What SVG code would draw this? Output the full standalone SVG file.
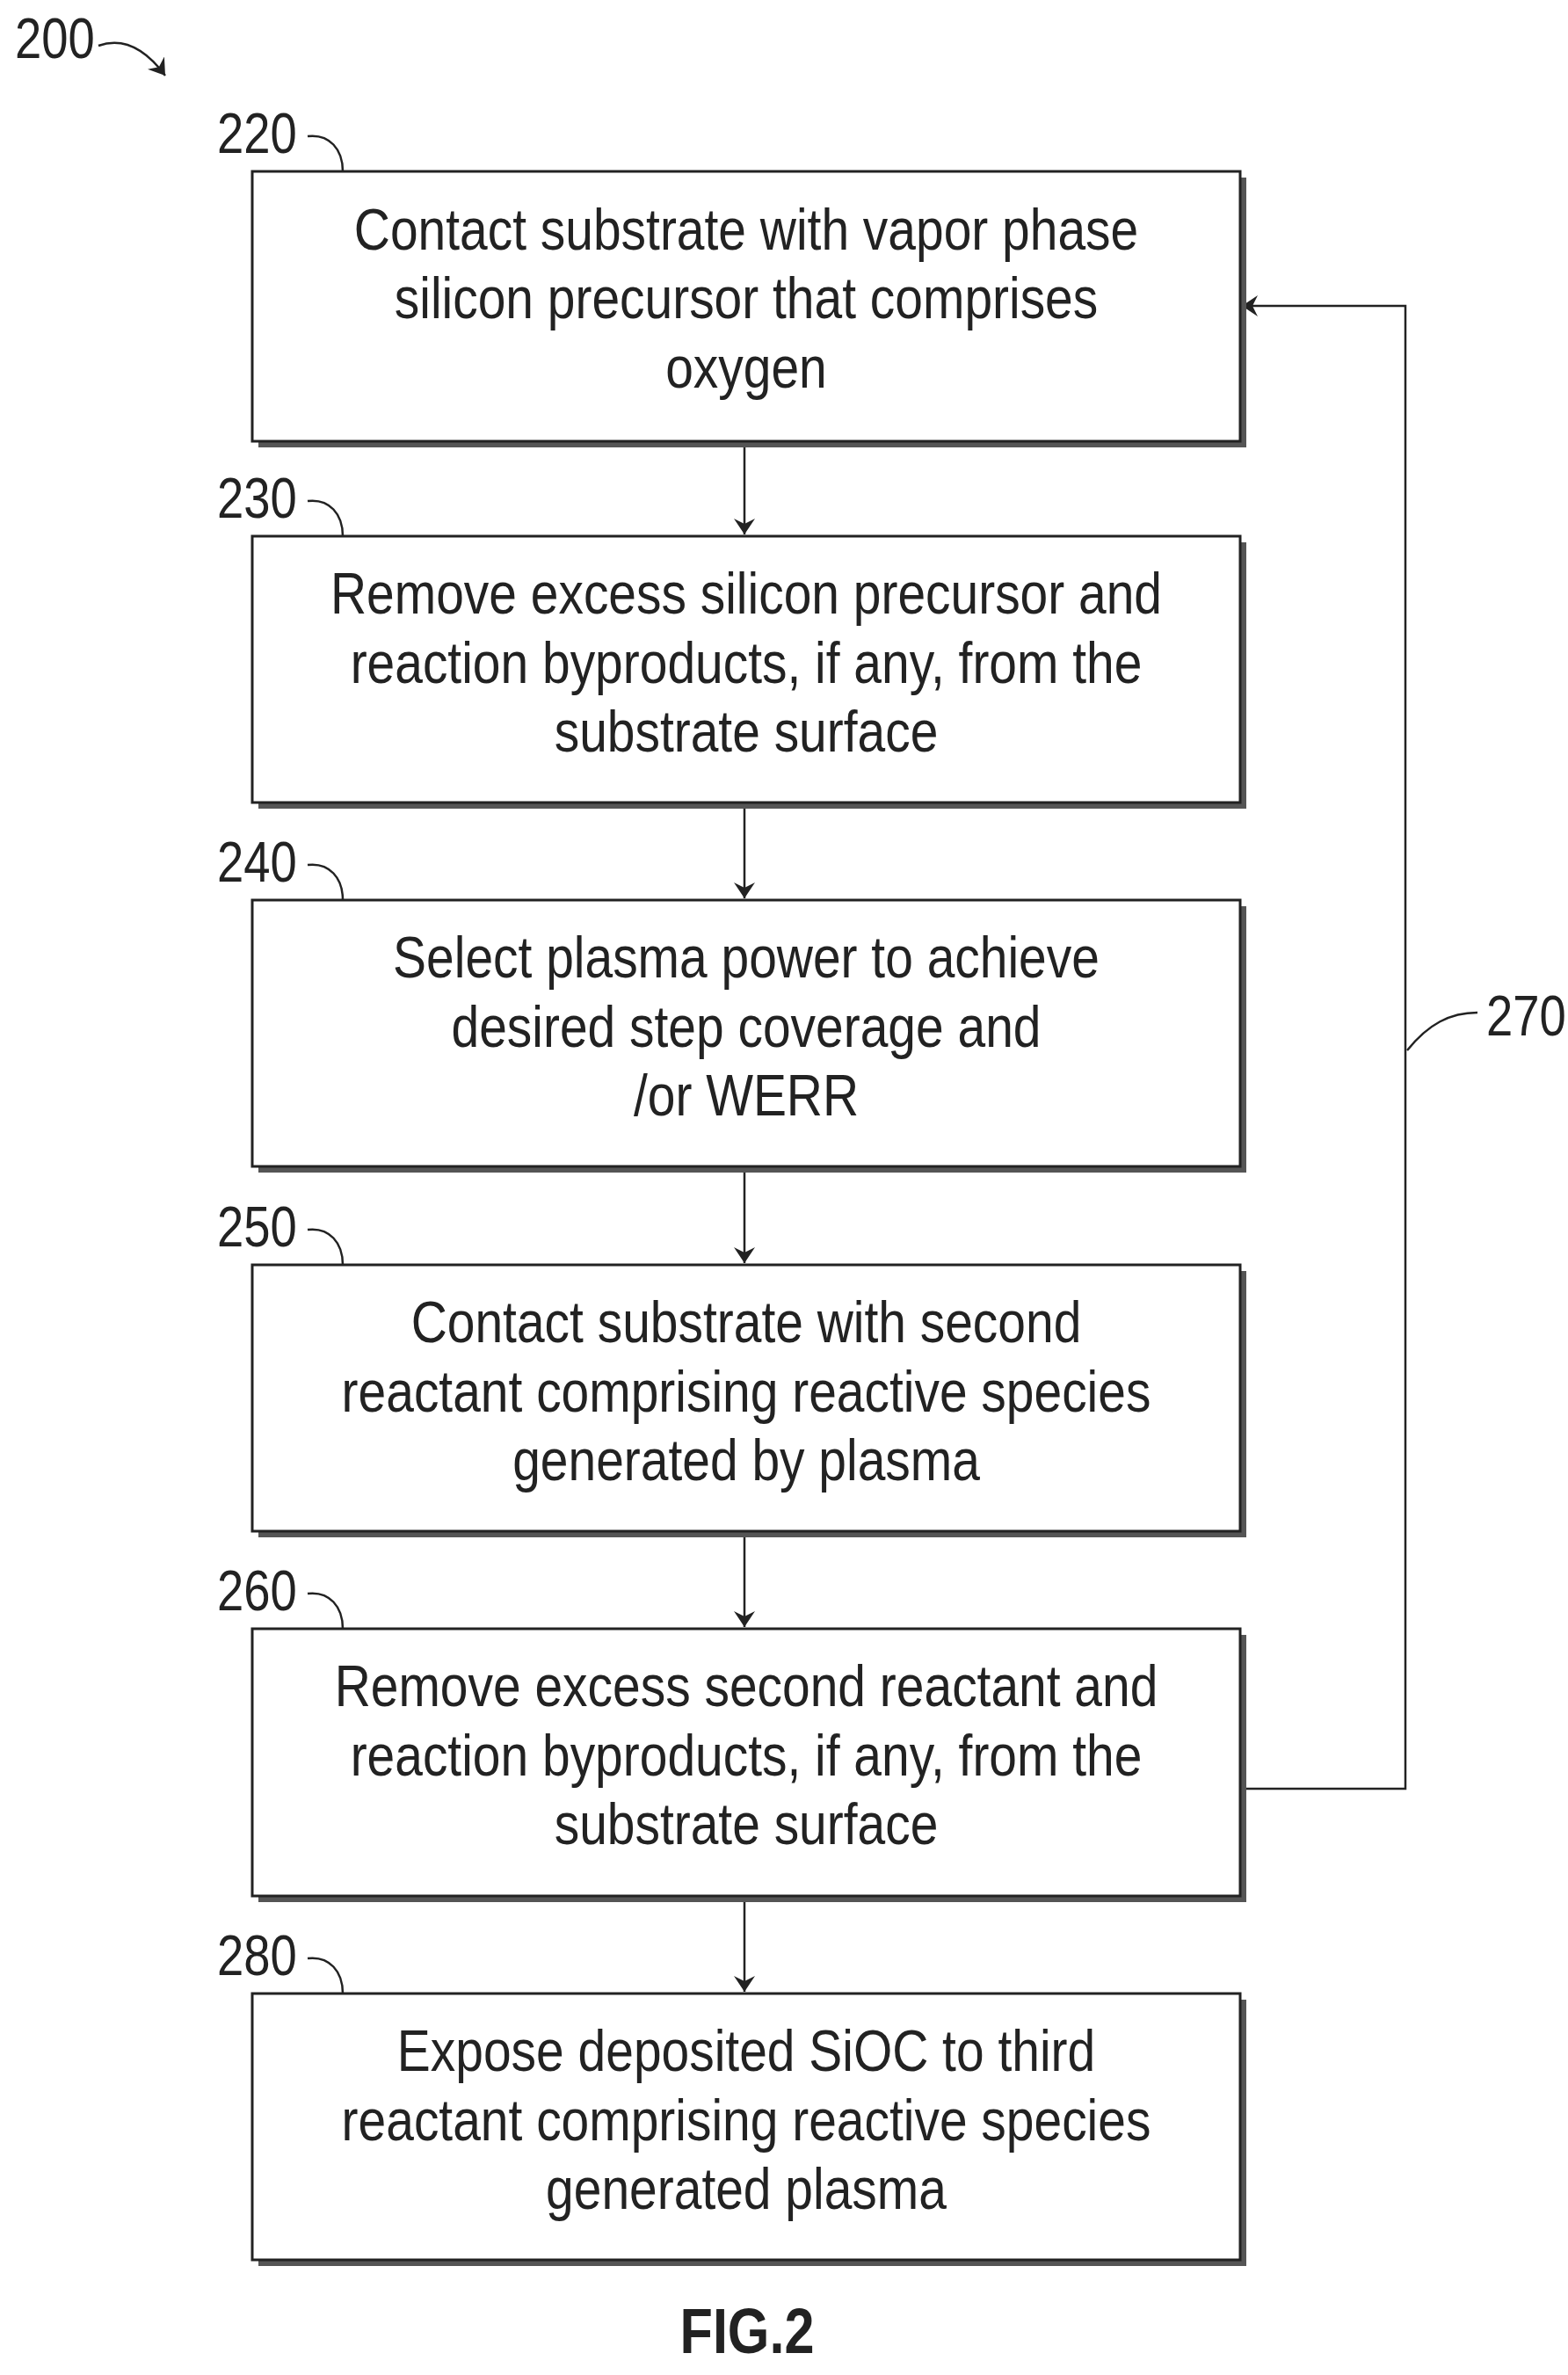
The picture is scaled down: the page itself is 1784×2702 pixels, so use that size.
<svg xmlns="http://www.w3.org/2000/svg" width="1784" height="2702" viewBox="0 0 1784 2702">
<defs>
<style>
.box{fill:#fff;stroke:#222;stroke-width:3}
.sh{fill:#555}
.t{font-family:"Liberation Sans",Arial,sans-serif;font-size:67px;fill:#222;text-anchor:middle}
.lb{font-family:"Liberation Sans",Arial,sans-serif;font-size:64px;fill:#222}
.ln{fill:none;stroke:#222;stroke-width:2.5}
</style>
<marker id="ah" markerWidth="18" markerHeight="24" refX="18" refY="12" orient="auto" markerUnits="userSpaceOnUse">
<path d="M0,0 L18,12 L0,24 L6,12 Z" fill="#222"/>
</marker>
</defs>
<rect width="1784" height="2702" fill="#fff"/>
<g id="ref200">
<text class="lb" x="17" y="66" transform="translate(17,0) scale(0.85,1) translate(-17,0)">200</text>
<path class="ln" d="M112,52 C140,42 165,55 188,86" marker-end="url(#ah)"/>
</g>
<g id="connectors">
<line class="ln" x1="847" y1="502" x2="847" y2="608" marker-end="url(#ah)"/>
<line class="ln" x1="847" y1="913" x2="847" y2="1022" marker-end="url(#ah)"/>
<line class="ln" x1="847" y1="1327" x2="847" y2="1437" marker-end="url(#ah)"/>
<line class="ln" x1="847" y1="1742" x2="847" y2="1851" marker-end="url(#ah)"/>
<line class="ln" x1="847" y1="2157" x2="847" y2="2266" marker-end="url(#ah)"/>
<path class="ln" d="M1411,2035 H1599 V348 H1413" marker-end="url(#ah)"/>
<path class="ln" d="M1601,1195 C1625,1165 1650,1152 1681,1152"/>
<text class="lb" x="1691" y="1178" transform="translate(1691,0) scale(0.85,1) translate(-1691,0)">270</text>
</g>
<g id="n220">
<rect class="sh" x="294" y="202" width="1124" height="307"/>
<rect class="box" x="287" y="195" width="1124" height="307"/>
<path class="ln" d="M350,155 C375,152 390,170 390,195"/>
<text class="lb" x="247" y="174" transform="translate(247,0) scale(0.85,1) translate(-247,0)">220</text>
<g transform="translate(849,0) scale(0.85,1)">
<text class="t" x="0" y="284">Contact substrate with vapor phase</text>
<text class="t" x="0" y="362">silicon precursor that comprises</text>
<text class="t" x="0" y="441">oxygen</text>
</g>
</g>
<g id="n230">
<rect class="sh" x="294" y="617" width="1124" height="303"/>
<rect class="box" x="287" y="610" width="1124" height="303"/>
<path class="ln" d="M350,570 C375,567 390,585 390,610"/>
<text class="lb" x="247" y="589" transform="translate(247,0) scale(0.85,1) translate(-247,0)">230</text>
<g transform="translate(849,0) scale(0.85,1)">
<text class="t" x="0" y="698">Remove excess silicon precursor and</text>
<text class="t" x="0" y="777">reaction byproducts, if any, from the</text>
<text class="t" x="0" y="855">substrate surface</text>
</g>
</g>
<g id="n240">
<rect class="sh" x="294" y="1031" width="1124" height="303"/>
<rect class="box" x="287" y="1024" width="1124" height="303"/>
<path class="ln" d="M350,984 C375,981 390,999 390,1024"/>
<text class="lb" x="247" y="1003" transform="translate(247,0) scale(0.85,1) translate(-247,0)">240</text>
<g transform="translate(849,0) scale(0.85,1)">
<text class="t" x="0" y="1112">Select plasma power to achieve</text>
<text class="t" x="0" y="1191">desired step coverage and</text>
<text class="t" x="0" y="1269">/or WERR</text>
</g>
</g>
<g id="n250">
<rect class="sh" x="294" y="1446" width="1124" height="303"/>
<rect class="box" x="287" y="1439" width="1124" height="303"/>
<path class="ln" d="M350,1399 C375,1396 390,1414 390,1439"/>
<text class="lb" x="247" y="1418" transform="translate(247,0) scale(0.85,1) translate(-247,0)">250</text>
<g transform="translate(849,0) scale(0.85,1)">
<text class="t" x="0" y="1527">Contact substrate with second</text>
<text class="t" x="0" y="1606">reactant comprising reactive species</text>
<text class="t" x="0" y="1684">generated by plasma</text>
</g>
</g>
<g id="n260">
<rect class="sh" x="294" y="1860" width="1124" height="304"/>
<rect class="box" x="287" y="1853" width="1124" height="304"/>
<path class="ln" d="M350,1813 C375,1810 390,1828 390,1853"/>
<text class="lb" x="247" y="1832" transform="translate(247,0) scale(0.85,1) translate(-247,0)">260</text>
<g transform="translate(849,0) scale(0.85,1)">
<text class="t" x="0" y="1941">Remove excess second reactant and</text>
<text class="t" x="0" y="2020">reaction byproducts, if any, from the</text>
<text class="t" x="0" y="2098">substrate surface</text>
</g>
</g>
<g id="n280">
<rect class="sh" x="294" y="2275" width="1124" height="303"/>
<rect class="box" x="287" y="2268" width="1124" height="303"/>
<path class="ln" d="M350,2228 C375,2225 390,2243 390,2268"/>
<text class="lb" x="247" y="2247" transform="translate(247,0) scale(0.85,1) translate(-247,0)">280</text>
<g transform="translate(849,0) scale(0.85,1)">
<text class="t" x="0" y="2356">Expose deposited SiOC to third</text>
<text class="t" x="0" y="2435">reactant comprising reactive species</text>
<text class="t" x="0" y="2513">generated plasma</text>
</g>
</g>
<g id="caption">
<text x="850" y="2677" text-anchor="middle" font-family="Liberation Sans,Arial,sans-serif" font-weight="bold" font-size="72" fill="#222" transform="translate(850,0) scale(0.85,1) translate(-850,0)">FIG.2</text>
</g>
</svg>
